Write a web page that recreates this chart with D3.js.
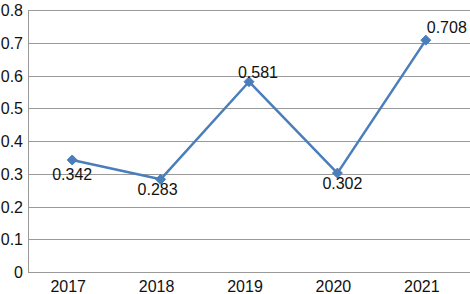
<!DOCTYPE html>
<html>
<head>
<meta charset="utf-8">
<script src="https://cdn.jsdelivr.net/npm/d3@7"></script>
<style>
  html, body { margin: 0; padding: 0; background: #fff; overflow: hidden; }
  svg { display: block; }
  text { font-family: "Liberation Sans", Arial, sans-serif; }
</style>
</head>
<body>
<svg id="chart"></svg>
<script>
// data
var years = ["2017", "2018", "2019", "2020", "2021"];
var values = [0.342, 0.283, 0.581, 0.302, 0.708];
var yTicks = [0, 0.1, 0.2, 0.3, 0.4, 0.5, 0.6, 0.7, 0.8];

// label nudges (dx, dy from the point), like Excel's label placement
var labelNudge = [[0, 20], [-3, 16], [9, -4], [5, 16], [21, -7]];

var width = 470, height = 294;
var plotLeft = 28, plotRight = 470, plotTop = 10, plotBottom = 272;

var svg = d3.select("#chart").attr("width", width).attr("height", height);

var x = d3.scaleBand().domain(years).range([plotLeft, plotRight]);
var y = d3.scaleLinear().domain([0, 0.8]).range([plotBottom, plotTop]);

// grid
svg.append("g")
    .selectAll("line")
    .data(yTicks)
    .enter().append("line")
    .attr("x1", plotLeft).attr("x2", plotRight)
    .attr("y1", d => Math.round(y(d)) + 0.5)
    .attr("y2", d => Math.round(y(d)) + 0.5)
    .attr("stroke", "#9a9a9a")
    .attr("stroke-width", 1);

// y axis line
svg.append("line")
    .attr("x1", plotLeft + 0.5).attr("x2", plotLeft + 0.5)
    .attr("y1", plotTop).attr("y2", plotBottom + 0.5)
    .attr("stroke", "#9a9a9a");

// y labels
svg.append("g")
    .selectAll("text")
    .data(yTicks)
    .enter().append("text")
    .attr("x", 23)
    .attr("y", d => y(d) + 6)
    .attr("text-anchor", "end")
    .attr("font-size", 16)
    .attr("fill", "#111")
    .text(d => d === 0 ? "0" : d3.format(".1f")(d));

// x labels
svg.append("g")
    .selectAll("text")
    .data(years)
    .enter().append("text")
    .attr("x", d => x(d) + x.bandwidth() / 2 - 4)
    .attr("y", 292)
    .attr("text-anchor", "middle")
    .attr("font-size", 16)
    .attr("fill", "#111")
    .text(d => d);

var pts = years.map((d, i) => [x(d) + x.bandwidth() / 2, y(values[i])]);

// line
svg.append("path")
    .attr("d", d3.line()(pts))
    .attr("fill", "none")
    .attr("stroke", "#4a7ebb")
    .attr("stroke-width", 2.5)
    .attr("stroke-linejoin", "round");

// diamond markers
svg.append("g")
    .selectAll("path")
    .data(pts)
    .enter().append("path")
    .attr("transform", d => "translate(" + d[0] + "," + d[1] + ")")
    .attr("d", "M0,-5L5,0L0,5L-5,0Z")
    .attr("fill", "#4a7ebb")
    .attr("stroke", "#4a7ebb")
    .attr("stroke-width", 1);

// data labels
svg.append("g")
    .selectAll("text")
    .data(values)
    .enter().append("text")
    .attr("x", (d, i) => pts[i][0] + labelNudge[i][0])
    .attr("y", (d, i) => pts[i][1] + labelNudge[i][1])
    .attr("text-anchor", "middle")
    .attr("font-size", 16)
    .attr("fill", "#111")
    .text(d => d3.format(".3f")(d));
</script>
</body>
</html>
